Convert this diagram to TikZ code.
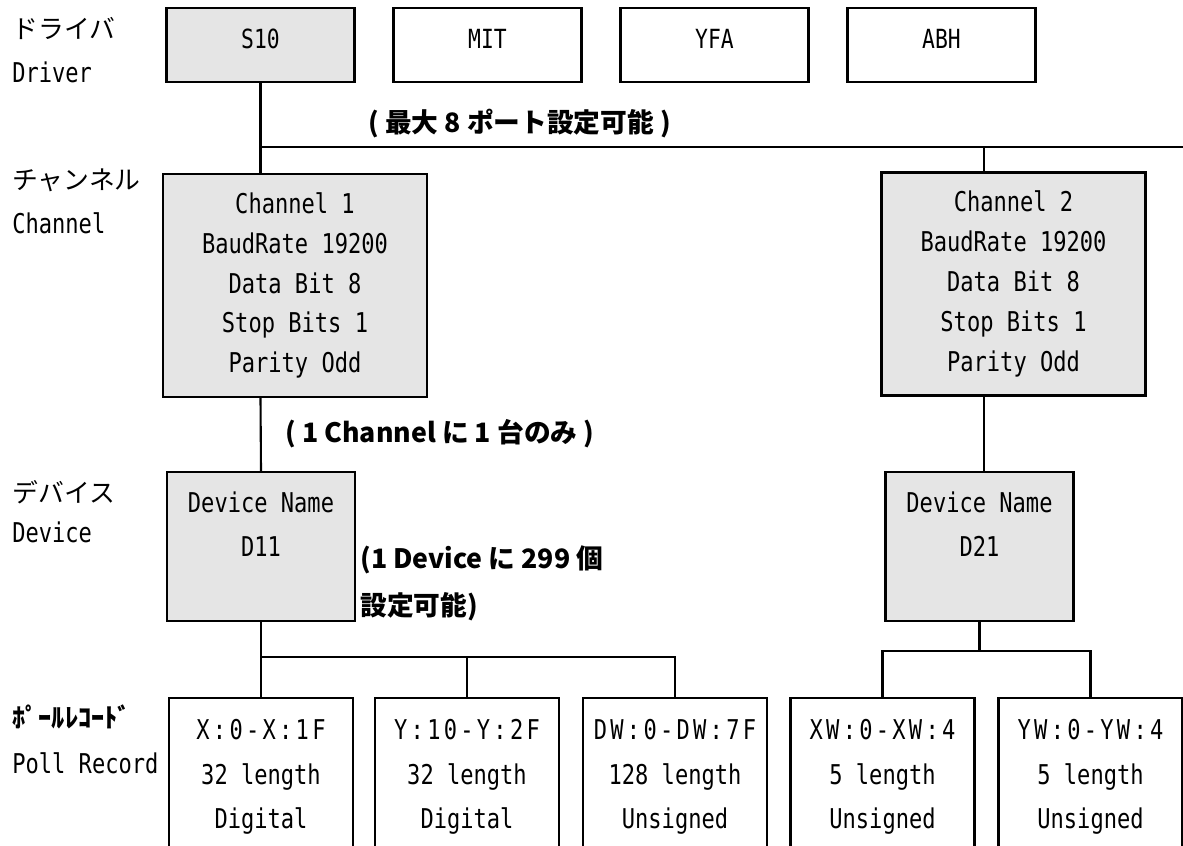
\documentclass[tikz,border=0pt]{standalone}
\usepackage{fontspec}
\setmainfont{DejaVu Sans Mono}[FakeStretch=0.81]
\newfontfamily\jpfont{Noto Sans CJK JP}
\newfontfamily\pollfont{DejaVu Sans Mono}[FakeStretch=0.81,LetterSpace=12]

\begin{document}
\begin{tikzpicture}[x=0.02cm, y=-0.02cm,
    box/.style={draw, line width=1.2pt, inner sep=0pt, align=center},
    graybox/.style={box, fill=black!10},
    drvbox/.style={box, minimum width=3.76cm, minimum height=1.48cm, text height=0.36cm, text depth=0.24cm, font=\fontsize{15}{17}\selectfont},
    chbox/.style={graybox, minimum width=5.28cm, minimum height=4.46cm, font=\fontsize{15.5}{22.7}\selectfont},
    devbox/.style={graybox, minimum width=3.76cm, minimum height=2.98cm, font=\fontsize{15.5}{25.5}\selectfont},
    recbox/.style={box, minimum width=3.68cm, minimum height=3.16cm, font=\fontsize{15.5}{25.2}\selectfont},
    lvljp/.style={anchor=west, inner sep=0pt, font=\jpfont\fontsize{14.7}{17}\selectfont},
    lvlen/.style={anchor=west, inner sep=0pt, font=\fontsize{15.5}{18}\selectfont},
    note/.style={anchor=west, inner sep=0pt, align=left, font=\jpfont\bfseries\fontsize{15.2}{26.6}\selectfont},
    link/.style={line width=1.2pt}]
    \useasboundingbox (0,0) rectangle (1183,845);
    \clip (0,0) rectangle (1183,845);

    % 階層の名前
    \node[lvljp] (jdrv) at (12,28) {ドライバ};
    \node[lvlen] (edrv) at (12,72) {Driver};
    \node[lvljp] (jch) at (12,180) {チャンネル};
    \node[lvlen] (ech) at (12,223) {Channel};
    \node[lvljp] (jdev) at (12,492) {デバイス};
    \node[lvlen] (edev) at (12,532) {Device};
    \node[lvljp, font=\jpfont\bfseries\fontsize{15}{17}\selectfont] (jrec) at (12,717) {ﾎﾟｰﾙﾚｺｰﾄﾞ};
    \node[lvlen] (erec) at (12,763) {Poll Record};

    % ドライバ
    \node[drvbox, fill=black!10] (s10) at (260.5,45) {S10};
    \node[drvbox] (mit) at (487.5,45) {MIT};
    \node[drvbox] (yfa) at (714.5,45) {YFA};
    \node[drvbox] (abh) at (941.5,45) {ABH};

    % チャンネル
    \node[chbox] (ch1) at (295,285.5) {Channel 1\\BaudRate 19200\\Data Bit 8\\Stop Bits 1\\Parity Odd};
    \node[chbox] (ch2) at (1013.5,284) {Channel 2\\BaudRate 19200\\Data Bit 8\\Stop Bits 1\\Parity Odd};

    % デバイス
    \node[devbox] (dev1) at (261,546.5) {Device Name\\D11\\~};
    \node[devbox] (dev2) at (979.5,546.5) {Device Name\\D21\\~};

    % ポールレコード
    \node[recbox] (pr1) at (261,777) {{\pollfont X:0-X:1F}\\32 length\\Digital};
    \node[recbox] (pr2) at (467,777) {{\pollfont Y:10-Y:2F}\\32 length\\Digital};
    \node[recbox] (pr3) at (675,777) {{\pollfont DW:0-DW:7F}\\128 length\\Unsigned};
    \node[recbox] (pr4) at (882.5,777) {{\pollfont XW:0-XW:4}\\5 length\\Unsigned};
    \node[recbox] (pr5) at (1090.5,777) {{\pollfont YW:0-YW:4}\\5 length\\Unsigned};

    % 注記
    \node[note] (n8) at (368,124) {( 最大 8 ポート設定可能 )};
    \node[note] (n1) at (285,434) {( 1 Channel に 1 台のみ )};
    \node[note] (n299) at (360,583.5) {(1 Device に 299 個\\設定可能)};

    % 接続線
    \coordinate (bus) at (1183,147);
    \coordinate (j2) at (984,147);
    \coordinate (pb1) at (678,657);
    \coordinate (pb2) at (980,651);
    \draw[link] (s10.south) -- (s10.south |- ch1.north);
    \draw[link] (s10.south |- bus) -- (bus);
    \draw[link] (j2) -- (j2 |- ch2.north);
    \draw[link] (ch1.south -| s10.south) -- (dev1.north);
    \draw[link] (ch2.south -| j2) -- (dev2.north -| j2);
    \draw[link] (dev1.south) -- (pr1.north);
    \draw[link] (dev1.south |- pb1) -| (pr3.north);
    \draw[link] (pr2.north |- pb1) -- (pr2.north);
    \draw[link] (dev2.south) -- (dev2.south |- pb2);
    \draw[link] (pr4.north) |- (pb2 -| pr5.north) -- (pr5.north);
\end{tikzpicture}
\end{document}
